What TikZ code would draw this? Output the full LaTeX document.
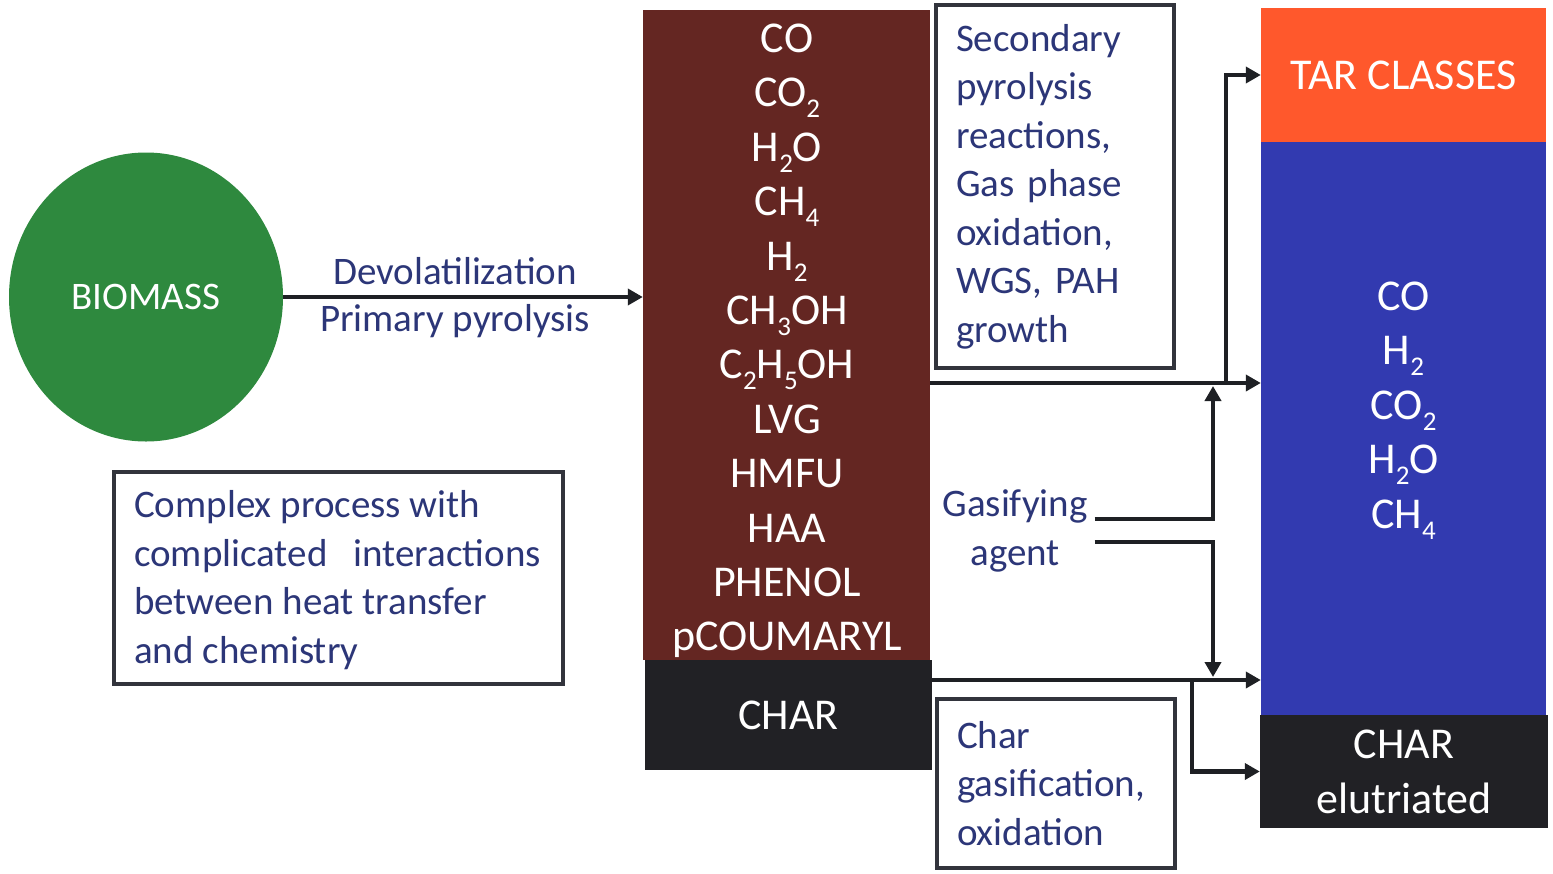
\documentclass[tikz,border=0pt]{standalone}
\usepackage{fontspec}
\setmainfont{Carlito}
\usetikzlibrary{shapes.geometric,arrows.meta,calc}

\definecolor{biogreen}{RGB}{46,137,62}
\definecolor{prodbrown}{RGB}{100,38,34}
\definecolor{charblack}{RGB}{33,33,37}
\definecolor{gasblue}{RGB}{50,58,176}
\definecolor{tarorange}{RGB}{255,88,44}
\definecolor{labelblue}{RGB}{44,54,120}
\definecolor{framegray}{RGB}{50,52,60}
\definecolor{linedark}{RGB}{30,32,36}

% chemical subscript, lowered and reduced
\newcommand{\chemsub}[1]{\raisebox{-0.25em}{\fontsize{27}{27}\selectfont #1}}

\begin{document}
\begin{tikzpicture}[x=1pt,y=-1pt,
  bigtext/.style={font=\fontsize{44}{54.4}\selectfont, text=white, align=center, inner sep=0pt},
  block/.style={inner sep=0pt, text=white, font=\fontsize{44}{55}\selectfont, align=center},
  note/.style={draw=framegray, line width=3.5pt, fill=white, text=labelblue,
    font=\fontsize{39}{48.5}\selectfont, align=left, inner xsep=20pt, inner ysep=0pt},
  label/.style={text=labelblue, font=\fontsize{39}{48.5}\selectfont, align=center, inner sep=0pt},
  flow/.style={line width=4.5pt, draw=linedark, -{Triangle[length=15pt,width=16pt]}}
  ]
\useasboundingbox (0,0) rectangle (1553,873);
\fill[white] (0,0) rectangle (1553,873);

% feedstock
\node[ellipse, fill=biogreen, minimum width=274pt, minimum height=289pt, inner sep=0pt,
  text=white, font=\fontsize{39}{39}\selectfont] (biomass) at (146,297) {BIOMASS};

% primary products column
\node[fill=prodbrown, minimum width=287pt, minimum height=650pt, inner sep=0pt] (prod) at (786.5,335) {};
\node[bigtext] (prodlist) at (787,341) {CO\\CO\chemsub{2}\\H\chemsub{2}O\\CH\chemsub{4}\\H\chemsub{2}\\CH\chemsub{3}OH\\C\chemsub{2}H\chemsub{5}OH\\LVG\\HMFU\\HAA\\PHENOL\\pCOUMARYL};
\node[block, fill=charblack, minimum width=287pt, minimum height=110pt] (char) at (788.5,715) {CHAR};

% reaction notes
\node[note, text width=198pt, minimum width=238pt, minimum height=363pt] (secondary) at (1055,186.5)
  {Secondary\\pyrolysis\\reactions,\\Gas phase\\oxidation,\\WGS, PAH\\growth};
\node[note, text width=198pt, minimum width=238pt, minimum height=169pt] (chargas) at (1056,783.5)
  {Char\\gasification,\\oxidation};
\node[note, line width=4pt, minimum width=449pt, minimum height=212pt] (complex) at (338.5,578) {};
\node[label, align=left, anchor=west] (complextext) at (134,580)
  {Complex process with\\complicated\hspace{0.45em} interactions\\between heat transfer\\and chemistry};

% final products column
\node[block, fill=tarorange, minimum width=285pt, minimum height=134pt] (tar) at (1403.5,75) {TAR CLASSES};
\node[fill=gasblue, minimum width=285pt, minimum height=573pt, inner sep=0pt] (gas) at (1403.5,428.5) {};
\node[bigtext] (gaslist) at (1403.5,410.5) {CO\\H\chemsub{2}\\CO\chemsub{2}\\H\chemsub{2}O\\CH\chemsub{4}};
\node[block, fill=charblack, minimum width=288pt, minimum height=113pt] (elu) at (1404,771.5) {CHAR\\elutriated};

% arrow labels
\node[label] (devol) at (455,271) {Devolatilization};
\node[label] (primary) at (455,321) {Primary pyrolysis};
\node[label] (agent) at (1015,531) {Gasifying\\agent};

% junction points
\coordinate (vapjoin) at (1226,383);
\coordinate (charjoin) at (1192,680);
\coordinate (agentx) at (1213,0);

% connectors
\draw[flow] (biomass.east) -- (prod.west |- biomass.east);
\draw[flow] (prod.east |- vapjoin) -- (gas.west |- vapjoin);
\draw[flow] (vapjoin) |- (tar.west);
\draw[flow] (char.east |- charjoin) -- (gas.west |- charjoin);
\draw[flow] (charjoin) |- (elu.west);
\draw[flow, shorten >=3pt] ($(agent.east)+(7,-12)$) -| (agentx |- vapjoin);
\draw[flow, shorten >=3pt] ($(agent.east)+(7,11)$) -| (agentx |- charjoin);
\end{tikzpicture}
\end{document}
